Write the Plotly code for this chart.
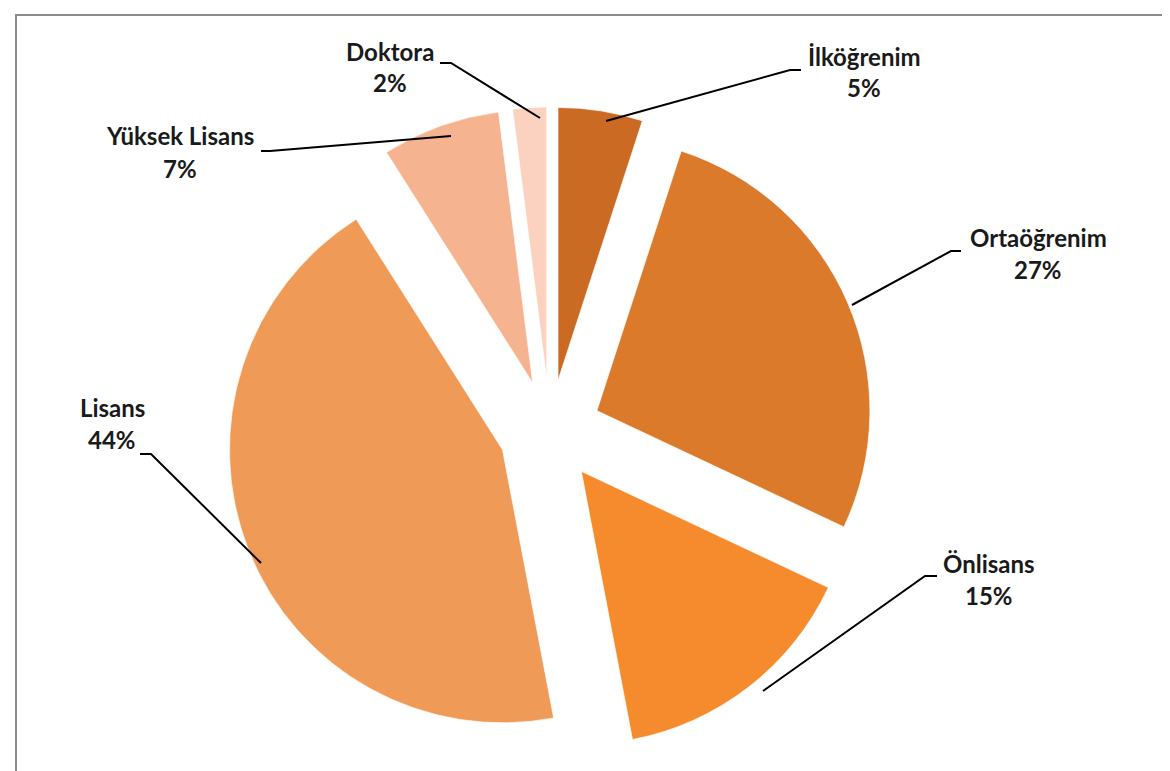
import plotly.graph_objects as go

# education level shares (%), clockwise from 12 o'clock
labels = ["İlköğrenim", "Ortaöğrenim", "Önlisans", "Lisans", "Yüksek Lisans", "Doktora"]
values = [5, 27, 15, 44, 7, 2]
colors = ["#cb6a22", "#dc7a2b", "#f68b2d", "#f09a58", "#f5b48f", "#fbd2bf"]

W, H = 1170, 771

def px(x, y):
    return x / W, 1 - y / H

# label anchors: (x centre, y of name line, y of percent line) in pixels
label_pos = {
    "İlköğrenim": (856, 48, 80),
    "Ortaöğrenim": (1030, 229, 261),
    "Önlisans": (981, 555, 587),
    "Lisans": (104, 399, 431),
    "Yüksek Lisans": (172, 128, 160),
    "Doktora": (382, 43, 75),
}
leaders = {
    "İlköğrenim": [(793, 62), (782, 62), (598, 113)],
    "Ortaöğrenim": [(953, 243), (943, 243), (844, 297)],
    "Önlisans": [(929, 568), (917, 568), (755, 683)],
    "Lisans": [(132, 446), (143, 446), (253, 555)],
    "Yüksek Lisans": [(253, 143), (262, 143), (443, 128)],
    "Doktora": [(432, 55), (443, 55), (532, 110)],
}

fig = go.Figure(go.Pie(
    labels=labels,
    values=values,
    sort=False,
    direction="clockwise",
    rotation=0,
    pull=[0.187] * len(values),
    marker=dict(colors=colors, line=dict(color="rgba(255,255,255,0.7)", width=1)),
    textinfo="none",
    hoverinfo="label+percent",
    showlegend=False,
    domain=dict(x=[0.1862, 0.7403], y=[0.0310, 0.8718]),
))

shapes = []
# outer frame
x0, y0 = px(8, 7)
x1, y1 = px(1166, 790)
shapes.append(dict(type="rect", xref="paper", yref="paper", x0=x0, y0=y1, x1=x1, y1=y0,
                   line=dict(color="#8c8c8c", width=2)))
for name, pts in leaders.items():
    p = [px(*q) for q in pts]
    path = "M {} {}".format(*p[0]) + "".join(" L {} {}".format(*q) for q in p[1:])
    shapes.append(dict(type="path", xref="paper", yref="paper", path=path,
                       line=dict(color="black", width=2)))

annotations = []
font = dict(family="Lato", size=24, color="#1a1a1a", weight="bold")
for name, v in zip(labels, values):
    cx, ny, py = label_pos[name]
    for txt, yy in ((name, ny), (f"{v}%", py)):
        ax, ay = px(cx, yy)
        annotations.append(dict(
            x=ax, y=ay, xref="paper", yref="paper",
            text=txt, showarrow=False,
            xanchor="center", yanchor="middle",
            font=font,
        ))

fig.update_layout(
    width=W, height=H,
    margin=dict(l=0, r=0, t=0, b=0),
    paper_bgcolor="white",
    plot_bgcolor="white",
    shapes=shapes,
    annotations=annotations,
)

fig.write_html("out.html")
